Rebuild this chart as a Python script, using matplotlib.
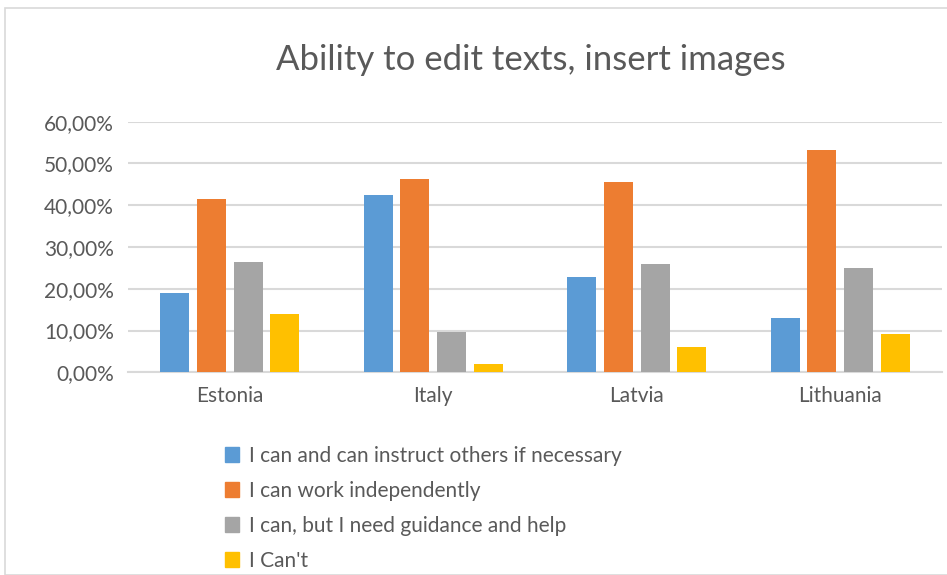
import numpy as np
import matplotlib.pyplot as plt
from matplotlib.ticker import FuncFormatter
from matplotlib.patches import Rectangle, Patch

countries = ["Estonia", "Italy", "Latvia", "Lithuania"]
series = ["I can and can instruct others if necessary",
          "I can work independently",
          "I can, but I need guidance and help",
          "I Can't"]
instruct = [18.9, 42.4, 22.8, 12.9]
independent = [41.4, 46.2, 45.6, 53.3]
guidance = [26.4, 9.7, 25.9, 25.0]
cant = [14.0, 2.0, 6.1, 9.1]
colors = ["#5b9bd5", "#ed7d31", "#a5a5a5", "#ffc000"]

values = [instruct, independent, guidance, cant]

plt.rcParams['font.family'] = ['Lato', 'DejaVu Sans']
txt = "#595959"

fig = plt.figure(figsize=(9.47, 5.75), dpi=100)
fig.patches.append(Rectangle((4.5 / 947, 0), 1, 1 - 8 / 575, transform=fig.transFigure,
                             fill=False, edgecolor="#d9d9d9", linewidth=1.2))

ax = fig.add_axes([128 / 947, 1 - 372.3 / 575, (942 - 128) / 947, (372.3 - 121.7) / 575])
x = np.arange(len(countries))
w = 0.1425
step = 0.18
for i, vals in enumerate(values):
    ax.bar(x + (i - 1.5) * step, np.array(vals) / 100, w, color=colors[i], zorder=3)

ax.set_xlim(-0.5, 3.5)
ax.set_ylim(0, 0.6)
ax.set_yticks(np.arange(0, 0.61, 0.1))
ax.yaxis.set_major_formatter(FuncFormatter(lambda v, p: ("%.2f%%" % (v * 100)).replace(".", ",")))
ax.set_xticks(x)
ax.set_xticklabels(countries)
ax.grid(axis="y", color="#d9d9d9", linewidth=1.5, zorder=0)
for s in ["left", "right", "top"]:
    ax.spines[s].set_visible(False)
ax.spines["bottom"].set_color("#d9d9d9")
ax.spines["bottom"].set_linewidth(1.5)
ax.tick_params(length=0, labelsize=15, labelcolor=txt)
ax.tick_params(axis="y", pad=10)
ax.tick_params(axis="x", pad=10)

fig.text(531 / 947, 1 - 60 / 575, "Ability to edit texts, insert images", ha="center", va="center",
         fontsize=25, color=txt)

handles = [Patch(color=c) for c in colors]
fig.legend(handles, series, loc="upper left", bbox_to_anchor=(206 / 947, 1 - 427 / 575),
           frameon=False, fontsize=15, labelcolor=txt, handlelength=0.7, handleheight=0.7,
           handletextpad=0.45, labelspacing=0.72)

fig.savefig("out.png", dpi=100)
